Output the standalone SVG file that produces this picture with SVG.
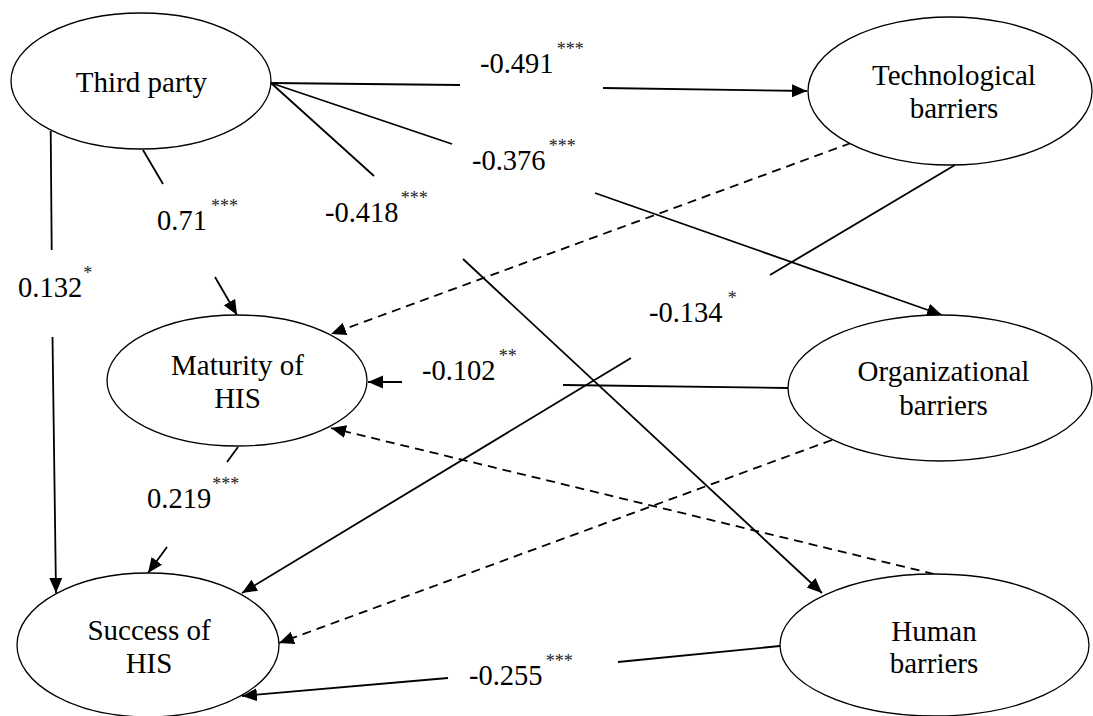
<svg xmlns="http://www.w3.org/2000/svg" width="1093" height="716" viewBox="0 0 1093 716">
  <style>
    .node ellipse { fill: #ffffff; stroke: #000000; stroke-width: 1.3; }
    .node text { font-family: "Liberation Serif", "Times New Roman", serif; font-size: 29px; fill: #000000; text-anchor: middle; }
    .edge { stroke: #000000; stroke-width: 1.8; fill: none; }
    .dash { stroke-dasharray: 9 6; }
    .lbl { font-family: "Liberation Serif", "Times New Roman", serif; font-size: 28.5px; fill: #000000; }
    .sig { font-size: 18px; fill: #222222; }
  </style>
  <defs>
    <marker id="arrow" markerUnits="userSpaceOnUse" markerWidth="16" markerHeight="14" refX="15" refY="6.5" orient="auto">
      <path d="M0,0 L15,6.5 L0,13 Z" fill="#000000" stroke="none"/>
    </marker>
  </defs>

  <rect x="0" y="0" width="1093" height="716" fill="#ffffff"/>

  <!-- paths between the constructs -->
  <g id="connectors">
    <!-- Third party -> Technological barriers -->
    <line class="edge" x1="271" y1="83" x2="460" y2="85"/>
    <line class="edge" x1="603" y1="88" x2="807" y2="91" marker-end="url(#arrow)"/>
    <!-- Third party -> Organizational barriers -->
    <line class="edge" x1="271" y1="83" x2="452" y2="144"/>
    <line class="edge" x1="595" y1="193" x2="942" y2="315" marker-end="url(#arrow)"/>
    <!-- Third party -> Human barriers -->
    <line class="edge" x1="271" y1="83" x2="374" y2="176"/>
    <line class="edge" x1="463" y1="259" x2="822" y2="593" marker-end="url(#arrow)"/>
    <!-- Third party -> Maturity of HIS -->
    <line class="edge" x1="143" y1="150" x2="163" y2="184"/>
    <line class="edge" x1="215" y1="277" x2="237" y2="315" marker-end="url(#arrow)"/>
    <!-- Third party -> Success of HIS -->
    <line class="edge" x1="50.7" y1="131" x2="51.7" y2="250"/>
    <line class="edge" x1="52.5" y1="337" x2="56" y2="593" marker-end="url(#arrow)"/>
    <!-- Technological barriers -> Maturity of HIS (n.s.) -->
    <line class="edge dash" x1="851" y1="143" x2="331" y2="334" marker-end="url(#arrow)"/>
    <!-- Technological barriers -> Success of HIS -->
    <line class="edge" x1="955" y1="165" x2="770" y2="275"/>
    <line class="edge" x1="631" y1="358" x2="242" y2="593" marker-end="url(#arrow)"/>
    <!-- Organizational barriers -> Maturity of HIS -->
    <line class="edge" x1="788" y1="388" x2="563" y2="385"/>
    <line class="edge" x1="402" y1="382" x2="368" y2="382" marker-end="url(#arrow)"/>
    <!-- Organizational barriers -> Success of HIS (n.s.) -->
    <line class="edge dash" x1="832" y1="440" x2="279" y2="643" marker-end="url(#arrow)"/>
    <!-- Human barriers -> Maturity of HIS (n.s.) -->
    <line class="edge dash" x1="934" y1="574" x2="331" y2="428" marker-end="url(#arrow)"/>
    <!-- Human barriers -> Success of HIS -->
    <line class="edge" x1="780" y1="646" x2="618" y2="662"/>
    <line class="edge" x1="448" y1="678" x2="242" y2="696" marker-end="url(#arrow)"/>
    <!-- Maturity of HIS -> Success of HIS -->
    <line class="edge" x1="238" y1="447" x2="227" y2="462"/>
    <line class="edge" x1="167" y1="547" x2="148" y2="573" marker-end="url(#arrow)"/>

    <!-- path coefficients -->
    <text class="lbl" x="480" y="73">-0.491<tspan class="sig" dx="3" dy="-18">***</tspan></text>
    <text class="lbl" x="472" y="170">-0.376<tspan class="sig" dx="3" dy="-18">***</tspan></text>
    <text class="lbl" x="325" y="222">-0.418<tspan class="sig" dx="2" dy="-18">***</tspan></text>
    <text class="lbl" x="157" y="230">0.71<tspan class="sig" dx="4" dy="-18">***</tspan></text>
    <text class="lbl" x="18" y="297">0.132<tspan class="sig" dx="1" dy="-18">*</tspan></text>
    <text class="lbl" x="649" y="322">-0.134<tspan class="sig" dx="5" dy="-18">*</tspan></text>
    <text class="lbl" x="422" y="380">-0.102<tspan class="sig" dx="3" dy="-18">**</tspan></text>
    <text class="lbl" x="147" y="508">0.219<tspan class="sig" dx="1" dy="-18">***</tspan></text>
    <text class="lbl" x="469" y="685">-0.255<tspan class="sig" dx="3" dy="-18">***</tspan></text>
  </g>

  <g id="third-party" class="node">
    <ellipse cx="141" cy="81" rx="130" ry="68"/>
    <text x="141.5" y="92">Third party</text>
  </g>

  <g id="technological-barriers" class="node">
    <ellipse cx="950" cy="91" rx="142" ry="74"/>
    <text x="954" y="85">Technological</text>
    <text x="954" y="118">barriers</text>
  </g>

  <g id="maturity-of-his" class="node">
    <ellipse cx="237" cy="380.5" rx="130" ry="65.5"/>
    <text x="237.5" y="375">Maturity of</text>
    <text x="237.5" y="408">HIS</text>
  </g>

  <g id="organizational-barriers" class="node">
    <ellipse cx="940" cy="388" rx="152" ry="73"/>
    <text x="943.5" y="381">Organizational</text>
    <text x="943.5" y="415">barriers</text>
  </g>

  <g id="success-of-his" class="node">
    <ellipse cx="148" cy="645" rx="131" ry="72"/>
    <text x="149" y="640">Success of</text>
    <text x="149" y="673">HIS</text>
  </g>

  <g id="human-barriers" class="node">
    <ellipse cx="934.5" cy="645" rx="154.5" ry="71"/>
    <text x="934" y="641">Human</text>
    <text x="934" y="673">barriers</text>
  </g>
</svg>
